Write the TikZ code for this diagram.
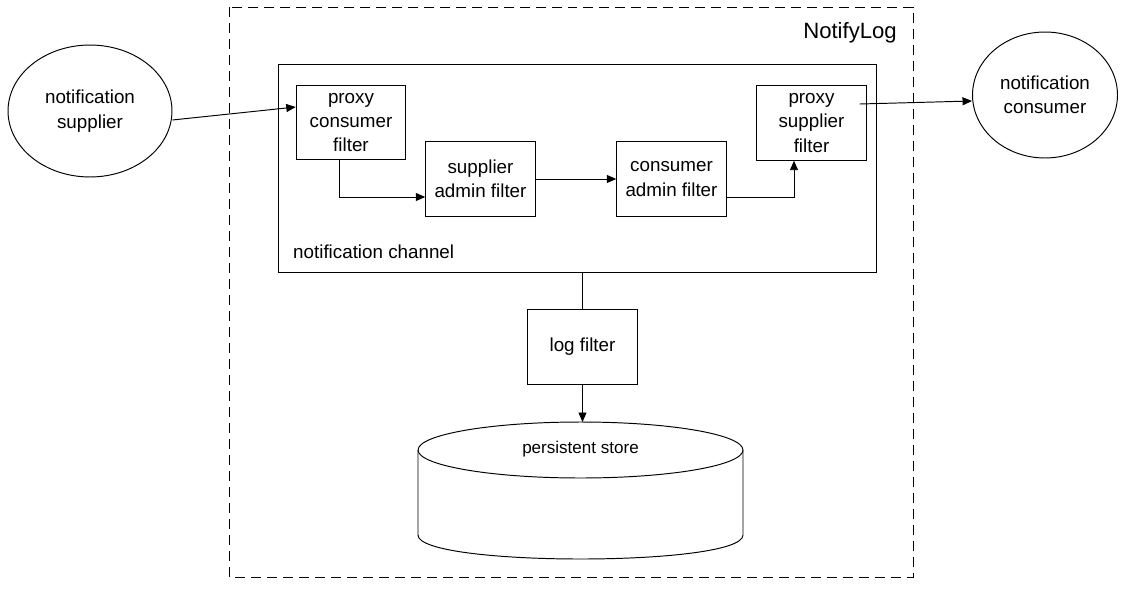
\documentclass[tikz,border=0pt]{standalone}
\usepackage{fontspec}
\setmainfont{Liberation Sans}
\usepackage{tikz}
\usetikzlibrary{positioning, arrows.meta, shapes.geometric}
\newcommand{\boxfont}{\fontsize{10.7}{13.9}\selectfont}
\tikzstyle{arrow} = [line width=0.55pt,-{Triangle[length=1.9mm,width=1.6mm]}]
\tikzstyle{filterbox} = [draw, line width=0.55pt, minimum width=2.19cm, minimum height=1.49cm, inner sep=0pt, align=center, font=\boxfont]
\tikzstyle{endpoint} = [draw, ellipse, line width=0.55pt, inner sep=0pt, align=center, font=\boxfont]

\begin{document}
\begin{tikzpicture}[x=0.02cm, y=-0.02cm]
                \useasboundingbox (0,0) rectangle (1125,605);
                % outer NotifyLog box
                \draw[line width=0.55pt, dash pattern=on 0.2cm off 0.12cm] (229,7) rectangle (913,577);
                \node[anchor=base east, font=\fontsize{12.6}{15}\selectfont] (notifylog) at (903,38) {NotifyLog};
                % notification channel
                \node[draw, line width=0.55pt, minimum width=11.98cm, minimum height=4.16cm, inner sep=0pt] (channel) at (577.5,168) {};
                \node[anchor=base west, font=\boxfont] (channellbl) at (287,258) {notification channel};
                \node[filterbox] (pcf) at (351,122.5) {proxy\\consumer\\filter};
                \node[filterbox] (sadm) at (480.5,179) {supplier\\admin filter};
                \node[filterbox] (cadm) at (671.5,179) {consumer\\admin filter};
                \node[filterbox] (psf) at (811.5,123) {proxy\\supplier\\filter};
                % endpoints outside
                \node[endpoint, minimum width=3.28cm, minimum height=2.64cm] (supplier) at (90,111) {notification\\supplier};
                \node[endpoint, minimum width=2.9cm, minimum height=2.52cm] (consumer) at (1045,95) {notification\\consumer};
                % log filter and store
                \node[filterbox] (logf) at (582.5,347) {log filter};
                \draw[line width=0.55pt, fill=white] (418,450) -- (418,535) .. controls (418,567) and (743,567) .. (743,535) -- (743,450);
                \draw[line width=0.55pt, fill=white] (580.5,450) ellipse [x radius=3.25cm, y radius=0.56cm];
                \node[font=\fontsize{9.7}{12}\selectfont] (store) at (580.5,449) {persistent store};
                \coordinate (storetop) at (582.5,422);
                % connectors
                \draw[arrow] ([yshift=-0.18cm]supplier.east) -- ([yshift=0.31cm]pcf.west);
                \draw[arrow] ([xshift=-0.24cm]pcf.south) |- ([yshift=-0.36cm]sadm.west);
                \draw[arrow] (sadm.east) -- (cadm.west);
                \draw[arrow] ([yshift=-0.36cm]cadm.east) -| ([xshift=-0.35cm]psf.south);
                \draw[arrow] ([xshift=-0.14cm,yshift=0.38cm]psf.east) -- ([yshift=-0.12cm]consumer.west);
                \draw[line width=0.55pt] (channel.south -| logf.north) -- (logf.north);
                \draw[arrow] (logf.south) -- (storetop);
\end{tikzpicture}
\end{document}
